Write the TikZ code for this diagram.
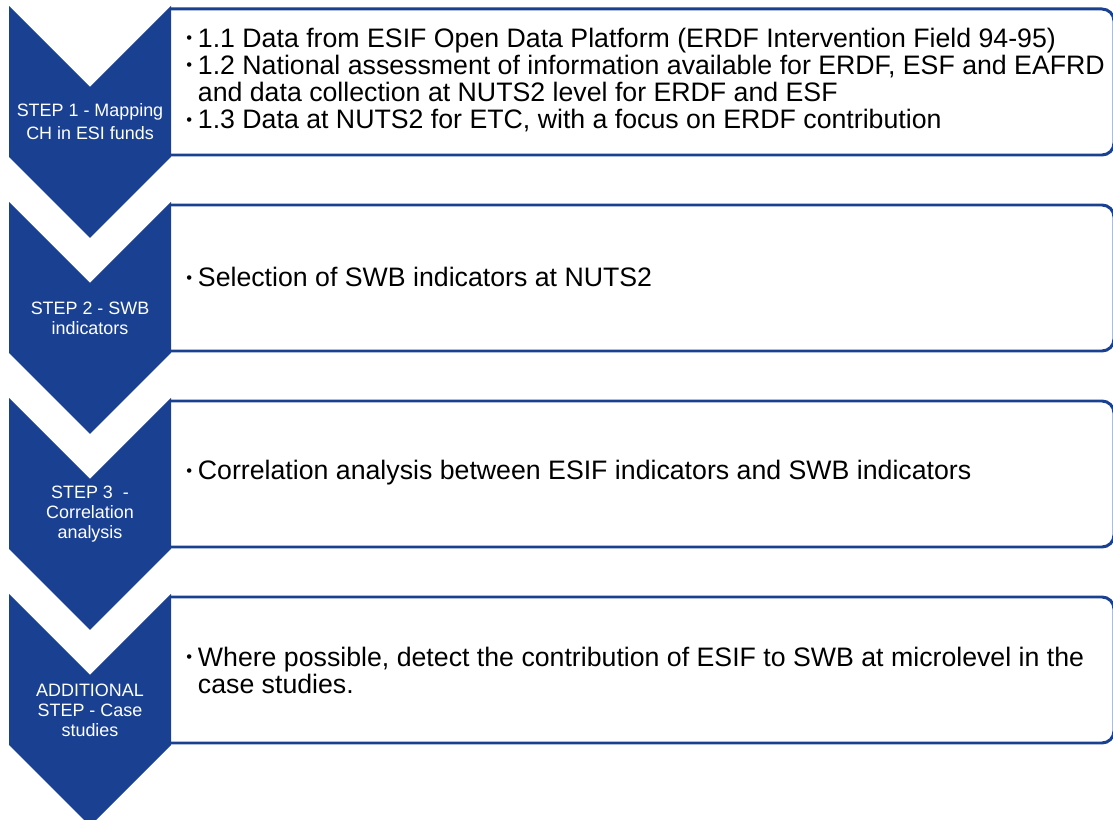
\documentclass[tikz,border=0pt]{standalone}
\usepackage{fontspec}
\usepackage{graphicx}
\setmainfont{Liberation Sans}
\definecolor{stepblue}{RGB}{26,65,145}
% small bullet with a fixed width, as in the task lists
\newcommand\taskdot{\makebox[6.6pt][l]{\raisebox{0.13em}{\scalebox{0.62}{•}}}}
\newcommand\taskgap{\hspace*{6.6pt}}
\tikzset{
  chev/.style={fill=stepblue, draw=none},
  taskbox/.style={draw=stepblue, line width=1.7pt, rounded corners=0.24cm},
  steplabel/.style={text=white, align=center, inner sep=0pt,
    font=\fontsize{10.2}{11.4}\selectfont},
  tasktext/.style={anchor=west, align=left, inner sep=0pt,
    font=\fontsize{15.2}{15.4}\selectfont},
}
\begin{document}
\begin{tikzpicture}[x=0.02cm, y=-0.02cm]
\useasboundingbox (0,0) rectangle (1113,820);
\clip (0,0) rectangle (1113,820);

% Boxes and chevrons, one pair per step
\foreach \t in {6,202,398,594} {
  \draw[taskbox] (171,\t+149) -- (1114,\t+149) -- (1114,\t+3) -- (171,\t+3);
  \fill[chev] (9,\t) -- (90,\t+81) -- (171,\t) -- (171,\t+151)
    -- (90,\t+232) -- (9,\t+151) -- cycle;
}

% Step labels
\node[steplabel, font=\fontsize{10.2}{13.1}\selectfont] (step1) at (90,122)
  {STEP 1 - Mapping\\CH in ESI funds};
\node[steplabel] (step2) at (90,318) {STEP 2 - SWB\\indicators};
\node[steplabel] (step3) at (90,514) {STEP 3\ \ -\\Correlation\\analysis};
\node[steplabel] (step4) at (90,710) {ADDITIONAL\\STEP - Case\\studies};

% Task texts
\node[tasktext] (task1) at (186,80)
  {\taskdot1.1 Data from ESIF Open Data Platform (ERDF Intervention Field 94-95)\\
   \taskdot1.2 National assessment of information available for ERDF, ESF and EAFRD\\
   \taskgap and data collection at NUTS2 level for ERDF and ESF\\
   \taskdot1.3 Data at NUTS2 for ETC, with a focus on ERDF contribution};
\node[tasktext] (task2) at (186,277) {\taskdot Selection of SWB indicators at NUTS2};
\node[tasktext] (task3) at (186,473)
  {\taskdot Correlation analysis between ESIF indicators and SWB indicators};
\node[tasktext] (task4) at (186,670)
  {\taskdot Where possible, detect the contribution of ESIF to SWB at microlevel in the\\
   \taskgap case studies.};

\end{tikzpicture}
\end{document}
